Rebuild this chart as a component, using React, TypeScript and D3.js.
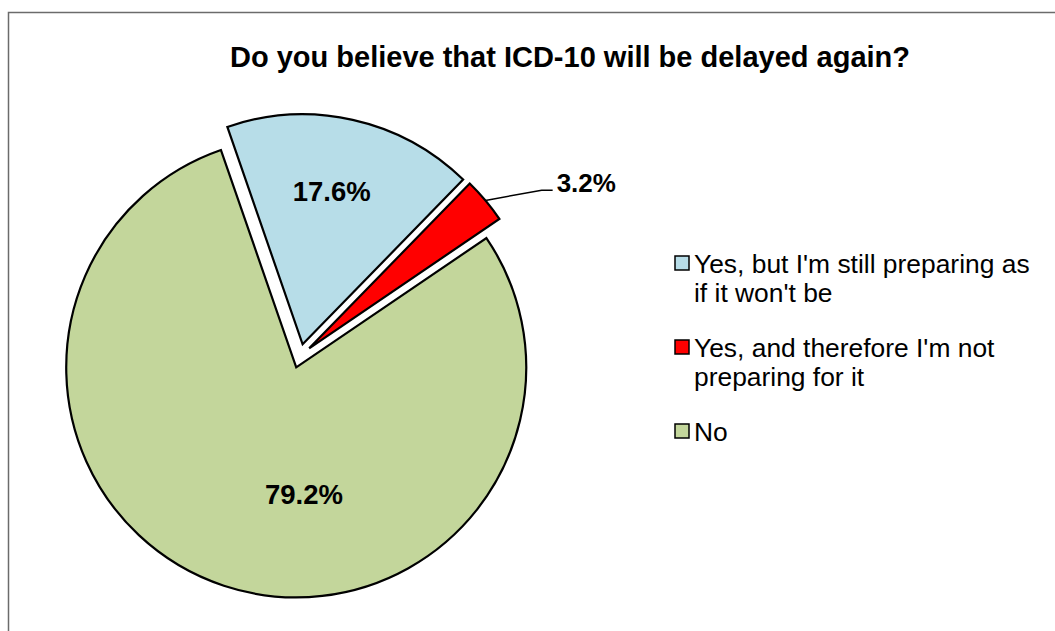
import * as d3 from 'd3'
import { useRef, useEffect } from 'react'

const title = 'Do you believe that ICD-10 will be delayed again?'
const categories = [
  "Yes, but I'm still preparing as if it won't be",
  "Yes, and therefore I'm not preparing for it",
  'No',
]
const legendLines = [
  ["Yes, but I'm still preparing as", "if it won't be"],
  ["Yes, and therefore I'm not", 'preparing for it'],
  ['No'],
]
const values = [17.6, 3.2, 79.2]
const colors = ['#B7DDE8', '#FF0000', '#C3D69B']

const width = 1055
const height = 631
const cx = 300
const cy = 356
const radius = 230
const explode = 12
const deg = Math.PI / 180
// label placement: angle shift from slice middle and distance as a share of radius
const labelPlace = [
  { shift: -1.7, r: 0.73, outside: false },
  { shift: 6.7, r: 1.314, outside: true },
  { shift: -20, r: 0.6, outside: false },
]

export default function App() {
  const svgRef = useRef<SVGSVGElement>(null)

  useEffect(() => {
    const svg = d3.select(svgRef.current)
    svg.selectAll('*').remove()
    svg.attr('width', width).attr('height', height)

    // chart area border (only left and top edges fall inside the picture)
    svg.append('rect')
      .attr('x', 8.5).attr('y', 12.5)
      .attr('width', 1200).attr('height', 800)
      .attr('fill', 'none').attr('stroke', '#6b6b6b').attr('stroke-width', 1.5)

    svg.append('text')
      .attr('x', 570).attr('y', 67)
      .attr('text-anchor', 'middle')
      .attr('font-family', 'Arial, "Liberation Sans", sans-serif')
      .attr('font-weight', 'bold').attr('font-size', 29)
      .text(title)

    const start = -19.1 * deg
    const pie = d3.pie<number>().sort(null).value(d => d)
      .startAngle(start).endAngle(start + 2 * Math.PI)
    const arcs = pie(values)
    const arc = d3.arc<d3.PieArcDatum<number>>().innerRadius(0).outerRadius(radius)

    const g = svg.append('g').attr('transform', `translate(${cx},${cy})`)
    const mid = (a: d3.PieArcDatum<number>) => (a.startAngle + a.endAngle) / 2

    g.selectAll('path.slice')
      .data(arcs)
      .enter()
      .append('path')
      .attr('class', 'slice')
      .attr('transform', a => `translate(${explode * Math.sin(mid(a))},${-explode * Math.cos(mid(a))})`)
      .attr('d', arc)
      .attr('fill', (_, i) => colors[i])
      .attr('stroke', '#000').attr('stroke-width', 2.2).attr('stroke-linejoin', 'miter')

    arcs.forEach((a, i) => {
      const p = labelPlace[i]
      const ang = mid(a) + p.shift * deg
      const lx = p.r * radius * Math.sin(ang)
      const ly = -p.r * radius * Math.cos(ang)
      const label = `${values[i].toFixed(1)}%`
      if (p.outside) {
        const ox = explode * Math.sin(mid(a)) + radius * Math.sin(mid(a))
        const oy = -explode * Math.cos(mid(a)) - radius * Math.cos(mid(a))
        g.append('path')
          .attr('d', `M${ox},${oy}L${lx - 11},${ly}L${lx},${ly}`)
          .attr('fill', 'none').attr('stroke', '#000').attr('stroke-width', 1.5)
        g.append('text')
          .attr('x', lx + 4).attr('y', ly + 2)
          .attr('font-family', 'Arial, "Liberation Sans", sans-serif')
          .attr('font-weight', 'bold').attr('font-size', 26)
          .text(label)
      } else {
        g.append('text')
          .attr('x', lx).attr('y', ly)
          .attr('dy', '0.35em')
          .attr('text-anchor', 'middle')
          .attr('font-family', 'Arial, "Liberation Sans", sans-serif')
          .attr('font-weight', 'bold').attr('font-size', 27.5)
          .text(label)
      }
    })

    // legend
    const legend = svg.append('g').attr('aria-label', 'legend')
    let y = 272.5
    categories.forEach((c, i) => {
      const item = legend.append('g').attr('data-category', c)
      item.append('rect')
        .attr('x', 675).attr('y', y - 16.5)
        .attr('width', 14).attr('height', 14)
        .attr('fill', colors[i]).attr('stroke', '#000').attr('stroke-width', 1.5)
      const t = item.append('text')
        .attr('font-family', 'Arial, "Liberation Sans", sans-serif')
        .attr('font-size', 26.4)
      legendLines[i].forEach((line, k) => {
        t.append('tspan').attr('x', 694).attr('y', y + k * 29.5).text(line)
      })
      y += legendLines[i].length * 29.5 + 25
    })
  }, [])

  return (
    <svg
      ref={svgRef}
      style={{ position: 'absolute', left: 0, top: 0, background: '#fff' }}
    />
  )
}
